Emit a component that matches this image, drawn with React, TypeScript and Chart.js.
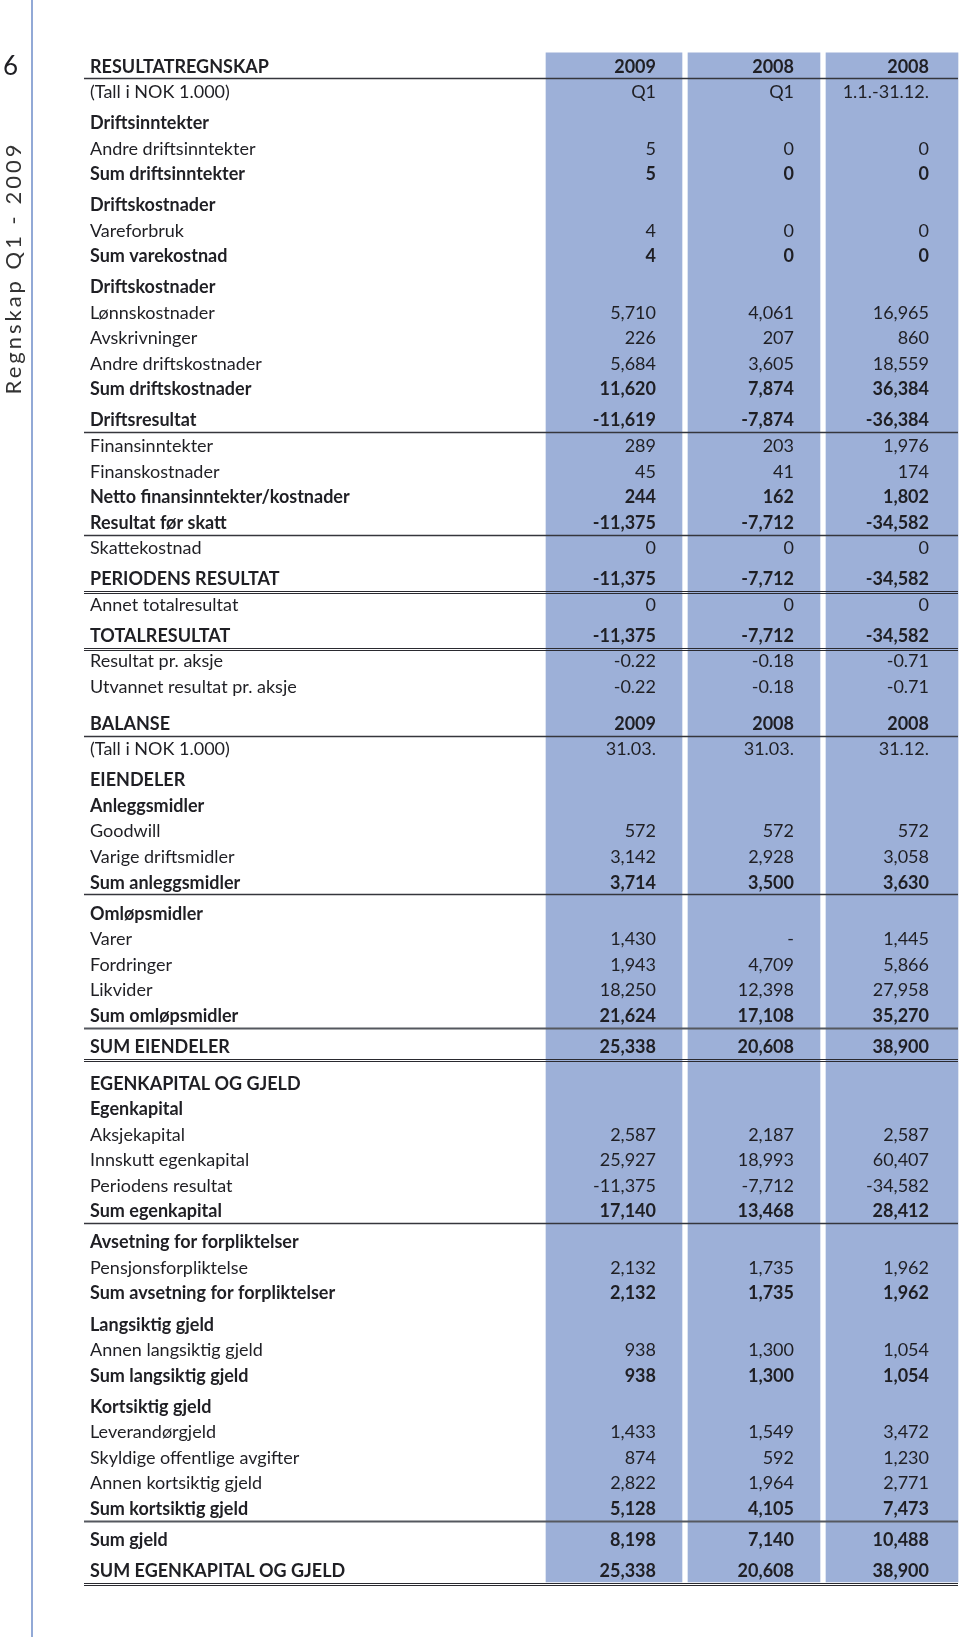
import React, { useEffect, useRef } from "react";
import { Chart, registerables } from "chart.js";

Chart.register(...registerables);

// ---------- data ----------
const rowLabels: string[] = [
  "RESULTATREGNSKAP", "(Tall i NOK 1.000)", "Driftsinntekter", "Andre driftsinntekter", "Sum driftsinntekter",
  "Driftskostnader", "Vareforbruk", "Sum varekostnad", "Driftskostnader", "Lønnskostnader",
  "Avskrivninger", "Andre driftskostnader", "Sum driftskostnader", "Driftsresultat", "Finansinntekter",
  "Finanskostnader", "Netto finansinntekter/kostnader", "Resultat før skatt", "Skattekostnad", "PERIODENS RESULTAT",
  "Annet totalresultat", "TOTALRESULTAT", "Resultat pr. aksje", "Utvannet resultat pr. aksje", "BALANSE",
  "(Tall i NOK 1.000)", "EIENDELER", "Anleggsmidler", "Goodwill", "Varige driftsmidler",
  "Sum anleggsmidler", "Omløpsmidler", "Varer", "Fordringer", "Likvider",
  "Sum omløpsmidler", "SUM EIENDELER", "EGENKAPITAL OG GJELD", "Egenkapital", "Aksjekapital",
  "Innskutt egenkapital", "Periodens resultat", "Sum egenkapital", "Avsetning for forpliktelser", "Pensjonsforpliktelse",
  "Sum avsetning for forpliktelser", "Langsiktig gjeld", "Annen langsiktig gjeld", "Sum langsiktig gjeld", "Kortsiktig gjeld",
  "Leverandørgjeld", "Skyldige offentlige avgifter", "Annen kortsiktig gjeld", "Sum kortsiktig gjeld", "Sum gjeld",
  "SUM EGENKAPITAL OG GJELD",
];

// "b" = bold row, "n" = normal row
const rowKinds: string[] = [
  "b", "n", "b", "n", "b", "b", "n", "b", "b", "n",
  "n", "n", "b", "b", "n", "n", "b", "b", "n", "b",
  "n", "b", "n", "n", "b", "n", "b", "b", "n", "n",
  "b", "b", "n", "n", "n", "b", "b", "b", "b", "n",
  "n", "n", "b", "b", "n", "b", "b", "n", "b", "b",
  "n", "n", "n", "b", "b", "b",
];

const col2009Q1: string[] = [
  "2009", "Q1", "", "5", "5", "", "4", "4", "", "5,710",
  "226", "5,684", "11,620", "-11,619", "289", "45", "244", "-11,375", "0", "-11,375",
  "0", "-11,375", "-0.22", "-0.22", "2009", "31.03.", "", "", "572", "3,142",
  "3,714", "", "1,430", "1,943", "18,250", "21,624", "25,338", "", "", "2,587",
  "25,927", "-11,375", "17,140", "", "2,132", "2,132", "", "938", "938", "",
  "1,433", "874", "2,822", "5,128", "8,198", "25,338",
];

const col2008Q1: string[] = [
  "2008", "Q1", "", "0", "0", "", "0", "0", "", "4,061",
  "207", "3,605", "7,874", "-7,874", "203", "41", "162", "-7,712", "0", "-7,712",
  "0", "-7,712", "-0.18", "-0.18", "2008", "31.03.", "", "", "572", "2,928",
  "3,500", "", "-", "4,709", "12,398", "17,108", "20,608", "", "", "2,187",
  "18,993", "-7,712", "13,468", "", "1,735", "1,735", "", "1,300", "1,300", "",
  "1,549", "592", "1,964", "4,105", "7,140", "20,608",
];

const col2008Year: string[] = [
  "2008", "1.1.-31.12.", "", "0", "0", "", "0", "0", "", "16,965",
  "860", "18,559", "36,384", "-36,384", "1,976", "174", "1,802", "-34,582", "0", "-34,582",
  "0", "-34,582", "-0.71", "-0.71", "2008", "31.12.", "", "", "572", "3,058",
  "3,630", "", "1,445", "5,866", "27,958", "35,270", "38,900", "", "", "2,587",
  "60,407", "-34,582", "28,412", "", "1,962", "1,962", "", "1,054", "1,054", "",
  "3,472", "1,230", "2,771", "7,473", "10,488", "38,900",
];

// structure: rows preceded by a small / large gap, and rules drawn below rows
const smallGapBefore: number[] = [2, 5, 8, 13, 19, 21, 26, 31, 36, 43, 46, 49, 54, 55];
const largeGapBefore: number[] = [24, 37];
const ruleRows: number[] = [0, 13, 17, 19, 21, 24, 30, 35, 36, 42, 53, 55];
const ruleKinds: string[] = ["single", "single", "single", "double", "double", "single", "single", "thick", "double", "single", "thick", "double"];

const sideTitle = "Regnskap Q1 - 2009";
const pageNumber = "6";

// ---------- layout / style ----------
const W = 960;
const H = 1637;
const ROW_PX = 25.53;
const FIRST_ROW_PX = 66.7;
const SMALL_GAP = 0.216;
const LARGE_GAP = 0.45;
const LABEL_X = 90;
const RULE_X0 = 84;
const RULE_X1 = 958;
const COLS = [
  { left: 546, right: 682, textRight: 656 },
  { left: 688, right: 820, textRight: 794 },
  { left: 826, right: 958, textRight: 929 },
];
const BLUE = "rgb(157,176,216)";
const TEXT = "#1f1f24";
const FONT = "Lato, 'Open Sans', sans-serif";
const FS = 18;

function rowPositions(): number[] {
  const pos: number[] = [];
  let y = 0;
  for (let i = 0; i < rowLabels.length; i++) {
    if (i > 0) y += 1;
    if (smallGapBefore.includes(i)) y += SMALL_GAP;
    if (largeGapBefore.includes(i)) y += LARGE_GAP;
    pos.push(y);
  }
  return pos;
}

export default function App() {
  const ref = useRef<HTMLCanvasElement | null>(null);

  useEffect(() => {
    document.body.style.margin = "0";
    const canvas = ref.current;
    if (!canvas) return;
    const pos = rowPositions();
    const colValues = [col2009Q1, col2008Q1, col2008Year];
    const yMin = -FIRST_ROW_PX / ROW_PX;
    const yMax = (H - FIRST_ROW_PX) / ROW_PX;
    const colTop = pos[0] - 0.54;
    const colBottom = pos[pos.length - 1] + 0.43;

    const datasets = COLS.map((c) => ({
      type: "bar" as const,
      data: [{ x: (c.left + c.right) / 2, y: [colTop, colBottom] }],
      backgroundColor: BLUE,
      borderWidth: 0,
      barThickness: c.right - c.left,
      grouped: false,
    }));

    const tablePlugin = {
      id: "tableText",
      afterDatasetsDraw(chart: any) {
        const ctx: CanvasRenderingContext2D = chart.ctx;
        const xs = chart.scales.x;
        const ys = chart.scales.y;
        ctx.save();
        // left vertical rule
        ctx.strokeStyle = "rgb(110,140,200)";
        ctx.lineWidth = 1.5;
        ctx.beginPath();
        ctx.moveTo(xs.getPixelForValue(32), 0);
        ctx.lineTo(xs.getPixelForValue(32), H);
        ctx.stroke();

        // page number
        ctx.fillStyle = TEXT;
        ctx.font = `26px ${FONT}`;
        ctx.textAlign = "left";
        ctx.textBaseline = "middle";
        ctx.fillText(pageNumber, xs.getPixelForValue(3), ys.getPixelForValue(pos[0]));

        // rotated side title
        ctx.save();
        ctx.translate(xs.getPixelForValue(14), 268);
        ctx.rotate(-Math.PI / 2);
        ctx.font = `22px ${FONT}`;
        (ctx as any).letterSpacing = "3px";
        ctx.textAlign = "center";
        ctx.fillStyle = "#333";
        ctx.fillText(sideTitle, 0, 0);
        ctx.restore();

        // rows
        ctx.textBaseline = "middle";
        rowLabels.forEach((label, i) => {
          const y = ys.getPixelForValue(pos[i]);
          const bold = rowKinds[i] === "b";
          ctx.font = `${bold ? "bold " : ""}${FS}px ${FONT}`;
          ctx.fillStyle = TEXT;
          ctx.textAlign = "left";
          ctx.fillText(label, xs.getPixelForValue(LABEL_X), y);
          ctx.textAlign = "right";
          colValues.forEach((vals, c) => {
            const v = vals[i];
            if (v) ctx.fillText(v, xs.getPixelForValue(COLS[c].textRight), y);
          });
        });

        // rules
        ruleRows.forEach((r, k) => {
          const y = ys.getPixelForValue(pos[r] + 0.46);
          const x0 = xs.getPixelForValue(RULE_X0);
          const x1 = xs.getPixelForValue(RULE_X1);
          const kind = ruleKinds[k];
          const line = (yy: number, w: number, col: string) => {
            ctx.strokeStyle = col;
            ctx.lineWidth = w;
            ctx.beginPath();
            ctx.moveTo(x0, yy);
            ctx.lineTo(x1, yy);
            ctx.stroke();
          };
          if (kind === "double") {
            line(Math.round(y) + 0.5, 1, "#2a2a30");
            line(Math.round(y) + 2.5, 1, "#2a2a30");
          } else if (kind === "thick") {
            line(Math.round(y) + 0.5, 2, "#55585f");
          } else {
            line(Math.round(y) + 0.5, 1.3, "#35363c");
          }
        });
        ctx.restore();
      },
    };

    const chart = new Chart(canvas, {
      type: "bar",
      data: { datasets: datasets as any },
      options: {
        animation: false,
        responsive: false,
        devicePixelRatio: 1,
        layout: { padding: 0 },
        plugins: { legend: { display: false }, tooltip: { enabled: false } },
        scales: {
          x: { type: "linear", display: false, offset: false, min: 0, max: W },
          y: { type: "linear", display: false, offset: false, reverse: true, min: yMin, max: yMax },
        },
      },
      plugins: [tablePlugin],
    });
    return () => chart.destroy();
  }, []);

  return (
    <div style={{ width: W, height: H, background: "#fff" }}>
      <canvas ref={ref} width={W} height={H} style={{ display: "block" }} />
    </div>
  );
}
